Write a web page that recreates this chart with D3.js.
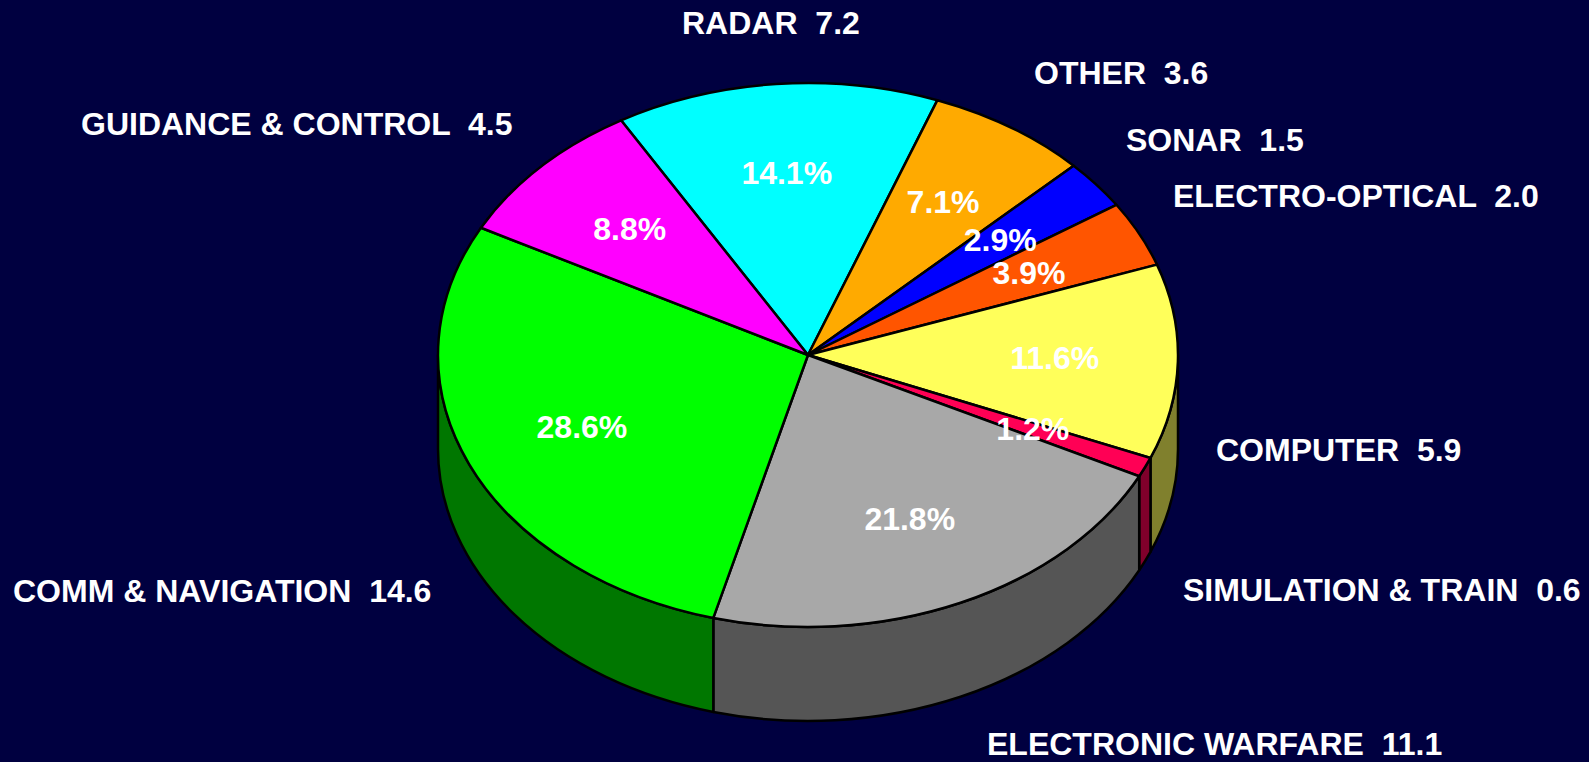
<!DOCTYPE html>
<html>
<head>
<meta charset="utf-8">
<script src="https://cdn.jsdelivr.net/npm/d3@7"></script>
<style>
  html, body { margin: 0; padding: 0; background: #000040; }
  svg { display: block; }
  text { font-family: "Liberation Sans", Arial, sans-serif; font-weight: bold; fill: #ffffff; }
</style>
</head>
<body>
<svg id="chart" width="1589" height="762"></svg>
<script>
// ---- data ----
const categories = ["RADAR", "OTHER", "SONAR", "ELECTRO-OPTICAL", "COMPUTER",
  "SIMULATION & TRAIN", "ELECTRONIC WARFARE", "COMM & NAVIGATION", "GUIDANCE & CONTROL"];
const values = [7.2, 3.6, 1.5, 2.0, 5.9, 0.6, 11.1, 14.6, 4.5];

// ---- styles ----
const topColors  = ["#00FFFF", "#FFAA00", "#0000FF", "#FF5500", "#FFFF5A",
  "#FF0055", "#A8A8A8", "#00FF00", "#FF00FF"];
const sideColors = ["#008080", "#805500", "#000080", "#802B00", "#80802D",
  "#80002B", "#555555", "#007700", "#800080"];
// outside label anchors (left x, baseline y)
const labelPos = [[682, 34], [1034, 84], [1126, 151], [1173, 207], [1216, 461],
  [1183, 601], [987, 755], [13, 602], [81, 135]];

const W = 1589, H = 762;
const cx = 808, cy = 355, rx = 370, ry = 272, depth = 94;
const startDeg = -30.35;

const svg = d3.select("#chart");
svg.append("rect").attr("width", W).attr("height", H).attr("fill", "#000040");

const total = d3.sum(values);
const start = startDeg * Math.PI / 180;
const pie = d3.pie().sort(null).value(d => d).startAngle(start).endAngle(start + 2 * Math.PI);
const arcs = pie(values);

function pt(a, dy = 0, f = 1) {
  return [cx + rx * f * Math.sin(a), cy - ry * f * Math.cos(a) + dy];
}

function topPath(d) {
  const p0 = pt(d.startAngle), p1 = pt(d.endAngle);
  const large = (d.endAngle - d.startAngle) > Math.PI ? 1 : 0;
  return `M${cx},${cy}L${p0[0]},${p0[1]}A${rx},${ry} 0 ${large} 1 ${p1[0]},${p1[1]}Z`;
}

function sidePath(d) {
  const b0 = Math.max(d.startAngle, Math.PI / 2);
  const b1 = Math.min(d.endAngle, 3 * Math.PI / 2);
  if (b1 <= b0) return null;
  const p0 = pt(b0), p1 = pt(b1), q1 = pt(b1, depth), q0 = pt(b0, depth);
  return `M${p0[0]},${p0[1]}A${rx},${ry} 0 0 1 ${p1[0]},${p1[1]}` +
         `L${q1[0]},${q1[1]}A${rx},${ry} 0 0 0 ${q0[0]},${q0[1]}Z`;
}

const g = svg.append("g");

g.selectAll("path.side")
  .data(arcs.filter(d => sidePath(d)))
  .join("path")
  .attr("class", "side")
  .attr("d", sidePath)
  .attr("fill", d => sideColors[d.index])
  .attr("stroke", "#000")
  .attr("stroke-width", 2.5)
  .attr("stroke-linejoin", "round");

g.selectAll("path.top")
  .data(arcs)
  .join("path")
  .attr("class", "top")
  .attr("d", topPath)
  .attr("fill", d => topColors[d.index])
  .attr("stroke", "#000")
  .attr("stroke-width", 2.5)
  .attr("stroke-linejoin", "round");

const pctFmt = d3.format(".1%");
g.selectAll("text.pct")
  .data(arcs)
  .join("text")
  .attr("class", "pct")
  .attr("text-anchor", "middle")
  .attr("font-size", 32)
  .attr("x", d => pt((d.startAngle + d.endAngle) / 2, 0, 0.667)[0])
  .attr("y", d => pt((d.startAngle + d.endAngle) / 2, 0, 0.667)[1] + 10)
  .text(d => pctFmt(d.value / total));

const valFmt = d3.format(".1f");
svg.selectAll("text.lbl")
  .data(categories)
  .join("text")
  .attr("class", "lbl")
  .attr("font-size", 32)
  .attr("xml:space", "preserve")
  .style("white-space", "pre")
  .attr("x", (d, i) => labelPos[i][0])
  .attr("y", (d, i) => labelPos[i][1])
  .text((d, i) => d + "  " + valFmt(values[i]));
</script>
</body>
</html>
